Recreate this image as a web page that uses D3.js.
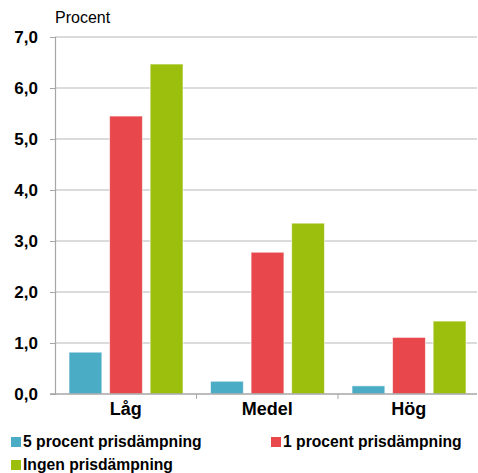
<!DOCTYPE html>
<html>
<head>
<meta charset="utf-8">
<script src="https://cdn.jsdelivr.net/npm/d3@7"></script>
<style>
  html, body { margin: 0; padding: 0; background: #fff; }
  svg { display: block; font-family: Arial, "Liberation Sans", sans-serif; }
</style>
</head>
<body>
<svg id="chart" width="478" height="473"></svg>
<script>
// Categories and series
const categories = ["Låg", "Medel", "Hög"];
const seriesNames = ["5 procent prisdämpning", "1 procent prisdämpning", "Ingen prisdämpning"];
const seriesColors = ["#4bacc6", "#e8484c", "#9bbf0c"];
const values5 = [0.82, 0.25, 0.16];
const values1 = [5.45, 2.78, 1.11];
const valuesNone = [6.47, 3.35, 1.43];
const yTicks = [0, 1, 2, 3, 4, 5, 6, 7];

const seriesValues = [values5, values1, valuesNone];
const rows = categories.map((c, i) => ({
  cat: c,
  vals: seriesValues.map((s, k) => ({ k, v: s[i] }))
}));

const svg = d3.select("#chart");
const plotLeft = 55, plotRight = 479.5, plotTop = 37, plotBottom = 394;

const x0 = d3.scaleBand().domain(categories).range([plotLeft, plotRight]).paddingInner(0).paddingOuter(0);
const x1 = d3.scaleBand().domain(d3.range(seriesNames.length))
  .range([14, x0.bandwidth() - 13.5]).paddingInner(0.19);
const y = d3.scaleLinear().domain([0, 7]).range([plotBottom, plotTop]);

// Gridlines
svg.append("g")
  .selectAll("line")
  .data(yTicks.filter(d => d > 0))
  .join("line")
  .attr("x1", plotLeft).attr("x2", 477)
  .attr("y1", d => y(d)).attr("y2", d => y(d))
  .attr("stroke", "#cfcfcf").attr("stroke-width", 1.6);

// Bars
svg.append("g")
  .selectAll("g")
  .data(rows)
  .join("g")
  .attr("transform", d => `translate(${x0(d.cat)},0)`)
  .selectAll("rect")
  .data(d => d.vals)
  .join("rect")
  .attr("x", d => x1(d.k))
  .attr("width", x1.bandwidth())
  .attr("y", d => y(d.v))
  .attr("height", d => y(0) - y(d.v))
  .attr("fill", d => seriesColors[d.k])
  .attr("stroke", "#ffffff").attr("stroke-opacity", 0.6).attr("stroke-width", 1);

// Y axis
const yAxis = svg.append("g")
  .attr("transform", `translate(${plotLeft},0)`)
  .call(d3.axisLeft(y).tickValues(yTicks).tickSize(5).tickPadding(12)
    .tickFormat(d => d3.format(".1f")(d).replace(".", ",")));
yAxis.select(".domain").attr("stroke", "#a6a6a6").attr("stroke-width", 1.2);
yAxis.selectAll(".tick line").attr("stroke", "#a6a6a6");
yAxis.selectAll(".tick text")
  .attr("font-size", 17).attr("font-weight", "bold").attr("fill", "#000")
  .attr("font-family", "Arial, 'Liberation Sans', sans-serif");

// X axis
const xAxis = svg.append("g")
  .attr("transform", `translate(0,${plotBottom})`)
  .call(d3.axisBottom(x0).tickSize(0).tickPadding(8));
xAxis.select(".domain").remove();
svg.append("line")
  .attr("x1", plotLeft - 5).attr("x2", 477)
  .attr("y1", plotBottom).attr("y2", plotBottom)
  .attr("stroke", "#a6a6a6").attr("stroke-width", 1.4);
svg.append("g")
  .selectAll("line")
  .data(categories.slice(1))
  .join("line")
  .attr("x1", d => x0(d)).attr("x2", d => x0(d))
  .attr("y1", plotBottom).attr("y2", plotBottom + 5)
  .attr("stroke", "#a6a6a6");
xAxis.selectAll(".tick text")
  .attr("font-size", 18).attr("font-weight", "bold").attr("fill", "#000")
  .attr("font-family", "Arial, 'Liberation Sans', sans-serif");

// Unit label
svg.append("text")
  .attr("x", 55).attr("y", 23)
  .attr("font-size", 16)
  .attr("fill", "#000")
  .text("Procent");

// Legend
const legendPos = [[11, 437], [271, 437], [11, 460]];
const legend = svg.append("g")
  .selectAll("g")
  .data(seriesNames)
  .join("g")
  .attr("transform", (d, i) => `translate(${legendPos[i][0]},${legendPos[i][1]})`);
legend.append("rect")
  .attr("width", 10).attr("height", 10)
  .attr("fill", (d, i) => seriesColors[i]);
legend.append("text")
  .attr("x", 12).attr("y", 10)
  .attr("font-size", 15.7).attr("font-weight", "bold").attr("fill", "#000")
  .text(d => d);
</script>
</body>
</html>
